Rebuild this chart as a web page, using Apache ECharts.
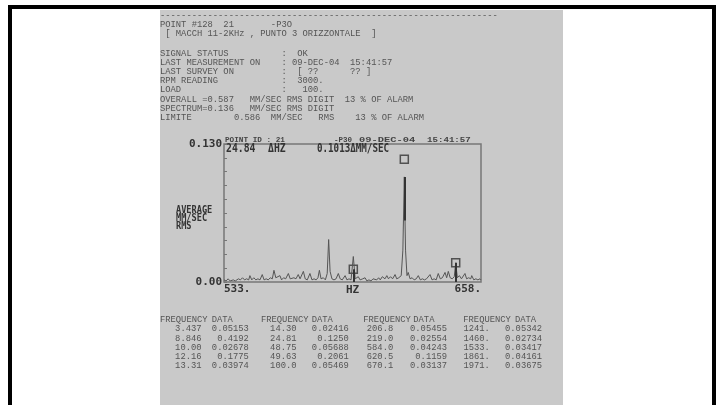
<!DOCTYPE html>
<html><head><meta charset="utf-8">
<script src="https://cdn.jsdelivr.net/npm/echarts@6.0.0/dist/echarts.min.js"></script>
<style>html,body{margin:0;padding:0;background:#fff}#c{width:722px;height:405px}</style>
</head><body><div id="c"></div>
<script>
// ---- spectrum (Hz, MM/SEC RMS) ----
const freqHz = [533.0,534.0,535.0,536.0,537.5,538.5,540.0,541.0,542.0,543.0,544.0,545.0,545.6,546.5,547.5,548.5,549.5,550.5,551.6,552.5,553.5,554.5,555.5,556.5,557.3,558.2,559.0,560.2,561.0,562.0,563.0,564.3,565.2,566.0,567.0,568.0,569.1,570.0,570.8,571.6,572.5,573.5,574.8,575.8,576.8,577.8,578.7,579.4,580.2,581.3,582.3,583.2,583.9,584.6,585.5,586.5,587.5,588.6,589.5,590.5,591.9,592.8,593.8,594.8,595.9,596.8,597.5,598.3,599.2,600.5,601.6,602.5,603.5,604.5,605.5,606.4,607.3,608.2,609.0,610.0,611.3,612.2,613.0,614.0,615.0,616.2,617.0,618.0,619.2,620.0,620.7,621.3,622.0,622.6,623.5,624.5,625.5,626.5,627.5,628.5,629.5,630.5,631.5,632.4,633.2,634.2,635.2,636.2,637.2,638.2,639.2,640.5,641.3,642.1,643.0,644.0,645.0,645.7,646.5,647.5,648.5,649.3,650.2,651.0,652.0,653.0,653.5,654.5,655.5,656.5,657.5,658.0];
const amplitude = [0.002,0.001,0.003,0.001,0.002,0.001,0.003,0.002,0.004,0.002,0.003,0.002,0.006,0.002,0.004,0.002,0.003,0.002,0.007,0.002,0.003,0.002,0.004,0.003,0.011,0.004,0.003,0.006,0.002,0.004,0.003,0.008,0.003,0.002,0.004,0.003,0.007,0.003,0.004,0.010,0.003,0.002,0.008,0.002,0.003,0.002,0.004,0.011,0.003,0.004,0.002,0.008,0.040,0.010,0.003,0.002,0.003,0.008,0.003,0.002,0.006,0.002,0.003,0.002,0.024,0.003,0.002,0.005,0.002,0.003,0.004,0.001,0.002,0.001,0.003,0.004,0.002,0.004,0.002,0.005,0.003,0.006,0.003,0.005,0.003,0.007,0.003,0.004,0.006,0.030,0.099,0.030,0.006,0.009,0.003,0.004,0.002,0.003,0.006,0.002,0.003,0.002,0.003,0.002,0.007,0.002,0.003,0.002,0.008,0.003,0.004,0.009,0.004,0.010,0.004,0.003,0.005,0.018,0.004,0.006,0.003,0.004,0.008,0.003,0.004,0.003,0.006,0.002,0.003,0.002,0.003,0.002];
// cursor markers
const markerHz = [595.9, 620.7, 645.7];
const markerValue = [0.012, 0.1156, 0.0182];
const stemLow = [0, 0.058, 0];
const stemHigh = [0.012, 0.099, 0.0182];
// axes
const xMin = 533, xMax = 658, yMin = 0, yMax = 0.13, yStep = 0.013;
const xTickLabels = ['533.', '658.'];
const yTickLabels = ['0.00', '0.130'];
const xAxisName = 'HZ';
const yAxisName = ['AVERAGE', 'MM/SEC', 'RMS'];
const plotHeader = ['24.84', '\u0394HZ', '0.1013\u0394MM/SEC'];
const plotTitle = ['POINT ID : 21', '-P30', '09-DEC-04', '15:41:57'];
// report text
const reportLines = [
  '----------------------------------------------------------------',
  'POINT #128  21       -P3O',
  ' [ MACCH 11-2KHz , PUNTO 3 ORIZZONTALE  ]',
  '',
  'SIGNAL STATUS          :  OK',
  'LAST MEASUREMENT ON    : 09-DEC-04  15:41:57',
  'LAST SURVEY ON         :  [ ??      ?? ]',
  'RPM READING            :  3000.',
  'LOAD                   :   100.',
  'OVERALL =0.587   MM/SEC RMS DIGIT  13 % OF ALARM',
  'SPECTRUM=0.136   MM/SEC RMS DIGIT',
  'LIMITE        0.586  MM/SEC   RMS    13 % OF ALARM'
];
const tableHeader = ['FREQUENCY', 'DATA', 'FREQUENCY', 'DATA', 'FREQUENCY', 'DATA', 'FREQUENCY', 'DATA'];
const tabFreq1 = ['3.437', '8.846', '10.00', '12.16', '13.31'];
const tabData1 = ['0.05153', '0.4192', '0.02678', '0.1775', '0.03974'];
const tabFreq2 = ['14.30', '24.81', '48.75', '49.63', '100.0'];
const tabData2 = ['0.02416', '0.1250', '0.05688', '0.2061', '0.05469'];
const tabFreq3 = ['206.8', '219.0', '584.0', '620.5', '670.1'];
const tabData3 = ['0.05455', '0.02554', '0.04243', '0.1159', '0.03137'];
const tabFreq4 = ['1241.', '1460.', '1533.', '1861.', '1971.'];
const tabData4 = ['0.05342', '0.02734', '0.03417', '0.04161', '0.03675'];

const chart = echarts.init(document.getElementById('c'));
const mono = 'Liberation Mono, DejaVu Sans Mono, monospace';
const plotFont = 'DejaVu Sans Mono, monospace';
const txtCol = '#555';

const g = [];
// page frame and scanned sheet
g.push({type:'rect', z:-10, shape:{x:8,y:5,width:708,height:400}, style:{fill:'#000'}});
g.push({type:'rect', z:-9, shape:{x:12,y:9,width:700,height:396}, style:{fill:'#fff'}});
g.push({type:'rect', z:-8, shape:{x:160,y:10,width:403,height:395}, style:{fill:'#c9c9c9'}});

const lineY = [15.7, 25, 34, 43.5, 53.3, 62.3, 71.7, 81, 90, 99.3, 108.3, 117.7];
reportLines.forEach((s, i) => {
  if (!s) return;
  g.push({type:'text', style:{text:s, x:160, y:lineY[i], fontFamily:mono, fontSize:8.8, fill:txtCol, verticalAlign:'middle'}});
});
// table
const headX = [160, 211.7, 261, 311.7, 363.3, 413.3, 463.3, 515];
tableHeader.forEach((s, i) => g.push({type:'text', style:{text:s, x:headX[i], y:320, fontFamily:mono, fontSize:8.8, fill:txtCol, verticalAlign:'middle'}}));
const cols = [tabFreq1, tabData1, tabFreq2, tabData2, tabFreq3, tabData3, tabFreq4, tabData4];
const colRight = [201.5, 248.8, 296.5, 348.8, 393.2, 447, 489.8, 542];
const rowY = [329, 338.3, 347.3, 356.7, 365.7];
cols.forEach((c, ci) => c.forEach((s, ri) => g.push({type:'text', style:{text:s, x:colRight[ci], y:rowY[ri], align:'right', fontFamily:mono, fontSize:8.8, fill:txtCol, verticalAlign:'middle'}})));

// plot title (small bold)
const titleX = [225, 334, 359, 427];
const titleSX = [0.96, 0.94, 1.3, 1.14];
plotTitle.forEach((s, i) => g.push({type:'text', x:titleX[i], y:139.5, scaleX:titleSX[i], style:{text:s, x:0, y:0, fontFamily:mono, fontWeight:'bold', fontSize:8, fill:'#444', verticalAlign:'middle'}}));
// plot header values
const headerX = [226, 268, 317];
const headerSX = [0.85, 0.85, 0.8];
plotHeader.forEach((s, i) => g.push({type:'text', x:headerX[i], y:149, scaleX:headerSX[i], style:{text:s, x:0, y:0, fontFamily:plotFont, fontWeight:'bold', fontSize:11.5, fill:'#333', verticalAlign:'middle'}}));
// y axis name
yAxisName.forEach((s, i) => g.push({type:'text', x:176, y:210 + i*8.4, scaleX:0.86, style:{text:s, x:0, y:0, fontFamily:plotFont, fontWeight:'bold', fontSize:10, lineHeight:10, fill:'#333', verticalAlign:'middle'}}));

const option = {
  animation: false,
  backgroundColor: '#fff',
  graphic: g,
  grid: {left:224, top:144, width:257, height:138, show:true, borderColor:'#777', borderWidth:1.5, backgroundColor:'transparent'},
  xAxis: {
    type:'value', min:xMin, max:xMax,
    axisLine:{show:false}, axisTick:{show:false}, splitLine:{show:false},
    name:xAxisName, nameLocation:'middle', nameGap:3, nameMoveOverlap:false,
    nameTextStyle:{fontFamily:plotFont, fontWeight:'bold', fontSize:11, color:'#333', verticalAlign:'top'},
    axisLabel:{
      showMinLabel:true, showMaxLabel:true, alignMinLabel:'left', alignMaxLabel:'right', margin:2,
      fontFamily:plotFont, fontWeight:'bold', fontSize:11, color:'#333',
      formatter: v => (Math.abs(v - xMin) < 1e-6 ? xTickLabels[0] : (Math.abs(v - xMax) < 1e-6 ? xTickLabels[1] : ''))
    }
  },
  yAxis: {
    type:'value', min:yMin, max:yMax, interval:yStep,
    axisLine:{show:false}, splitLine:{show:false},
    axisTick:{show:true, inside:true, length:3, lineStyle:{color:'#777', width:1}},
    axisLabel:{
      margin:2, fontFamily:plotFont, fontWeight:'bold', fontSize:11, color:'#333',
      formatter: v => (v < 1e-9 ? yTickLabels[0] : (v > yMax - 1e-6 ? yTickLabels[1] : ''))
    }
  },
  series: [
    {
      type:'line', showSymbol:false, silent:true,
      data: freqHz.map((f, i) => [f, amplitude[i]]),
      lineStyle:{color:'#555', width:1},
      markLine:{
        silent:true, symbol:['none','none'], label:{show:false},
        lineStyle:{color:'#333', width:2, type:'solid'},
        data: markerHz.map((f, i) => [{coord:[f, stemLow[i]]}, {coord:[f, stemHigh[i]]}])
      }
    },
    {
      type:'scatter', silent:true, symbol:'rect', symbolSize:8,
      data: markerHz.map((f, i) => [f, markerValue[i]]),
      itemStyle:{color:'rgba(0,0,0,0)', borderColor:'#333', borderWidth:1.5}
    }
  ]
};
chart.setOption(option);
</script>
</body></html>
